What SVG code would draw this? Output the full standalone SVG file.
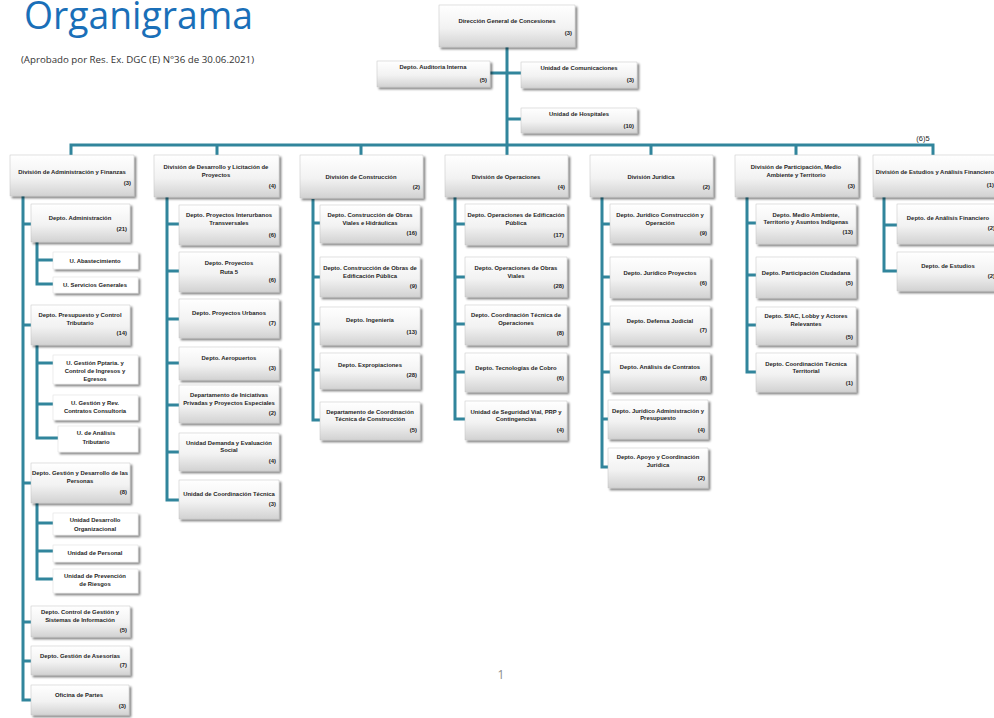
<svg xmlns="http://www.w3.org/2000/svg" width="994" height="718" viewBox="0 0 994 718">
<defs>
<linearGradient id="g" x1="0" y1="0" x2="0" y2="1">
<stop offset="0" stop-color="#ffffff"/>
<stop offset="0.55" stop-color="#f2f2f2"/>
<stop offset="1" stop-color="#d2d2d2"/>
</linearGradient>
<filter id="sh" x="-10%" y="-15%" width="125%" height="145%">
<feGaussianBlur in="SourceAlpha" stdDeviation="1"/>
<feOffset dx="1.5" dy="2"/>
<feComponentTransfer><feFuncA type="linear" slope="0.5"/></feComponentTransfer>
<feMerge><feMergeNode/><feMergeNode in="SourceGraphic"/></feMerge>
</filter>
<style>
.b{fill:url(#g);stroke:#c4c4c4;stroke-width:.5;filter:url(#sh)}
.u{fill:#ffffff;stroke:#dcdcdc;stroke-width:.5;filter:url(#sh)}
.t{font-family:"Liberation Sans",Arial,sans-serif;font-weight:bold;font-size:5.9px;fill:#1e1e1e;text-anchor:middle}
.n{font-family:"Liberation Sans",Arial,sans-serif;font-weight:bold;font-size:5.9px;fill:#1e1e1e;text-anchor:end}
.c{stroke:#31859c;stroke-width:3;fill:none}
</style>
</defs>
<rect width="994" height="718" fill="#ffffff"/>
<text x="24" y="29" font-family="'Open Sans','Noto Sans',sans-serif" font-size="38" fill="#1a6fb8" textLength="229" lengthAdjust="spacingAndGlyphs">Organigrama</text>
<text x="21" y="63" font-family="'Open Sans','Noto Sans',sans-serif" font-size="9.5" fill="#333333" textLength="233" lengthAdjust="spacingAndGlyphs">(Aprobado por Res. Ex. DGC (E) N°36 de 30.06.2021)</text>
<text x="501" y="679" font-family="'Open Sans','Noto Sans',sans-serif" font-size="12" fill="#8c8c8c" text-anchor="middle">1</text>
<text x="923" y="141" font-family="'Liberation Sans',Arial,sans-serif" font-size="7.5" fill="#262626" text-anchor="middle">(6)5</text>

<g id="connectors">
<path class="c" d="M507 47V145M490 73H521M507 119H521M71 145H933M71 143.5V155M217 145V155M361 145V155M507 145V155M651 145V155M796 145V155M933 143.5V155"/>
<path class="c" d="M23 196V700H31M23 224H31M23 325H31M23 483H31M23 622H31M23 661H31"/>
<path class="c" d="M37 242V284H53M37 260H53M37 345V438H58M37 363H53M37 404H53M37 503V579H53M37 523H53M37 551H53"/>
<path class="c" d="M167 197V500H179M167 224H179M167 271H179M167 319H179M167 363H179M167 405H179M167 452H179"/>
<path class="c" d="M313 199V420H320M313 223H320M313 277H320M313 324H320M313 370H320"/>
<path class="c" d="M455 197V419H465M455 224H465M455 277H465M455 324H465M455 372H465"/>
<path class="c" d="M602 197V467H608M602 224H610M602 277H610M602 324H610M602 372H610M602 419H608"/>
<path class="c" d="M747 197V372H756M747 223H756M747 275H756M747 325H756"/>
<path class="c" d="M884 197V271H897M884 225H897"/>
</g>

<g id="dgc"><rect class="b" x="439" y="5" width="136" height="42"/><text class="t" x="507" y="23">Dirección General de Concesiones</text><text class="n" x="572" y="35">(3)</text></g>
<g id="auditoria"><rect class="b" x="377" y="61" width="113" height="26"/><text class="t" x="433" y="69">Depto. Auditoria Interna</text><text class="n" x="487" y="82">(5)</text></g>
<g id="comunicaciones"><rect class="b" x="521" y="62" width="116" height="26"/><text class="t" x="579" y="70">Unidad de Comunicaciones</text><text class="n" x="634" y="82">(3)</text></g>
<g id="hospitales"><rect class="b" x="521" y="108" width="116" height="25"/><text class="t" x="579" y="116">Unidad de Hospitales</text><text class="n" x="634" y="128">(10)</text></g>

<g id="div-admin"><rect class="b" x="10" y="155" width="124" height="41"/><text class="t" x="72" y="174">División de Administración y Finanzas</text><text class="n" x="131" y="185">(3)</text></g>
<g id="div-desarrollo"><rect class="b" x="154" y="155" width="125" height="42"/><text class="t" x="216" y="169">División de Desarrollo y Licitación de</text><text class="t" x="216" y="177">Proyectos</text><text class="n" x="276" y="188">(4)</text></g>
<g id="div-construccion"><rect class="b" x="300" y="155" width="123" height="43"/><text class="t" x="361" y="179">División de Construcción</text><text class="n" x="420" y="189">(2)</text></g>
<g id="div-operaciones"><rect class="b" x="445" y="155" width="123" height="42"/><text class="t" x="506" y="179">División de Operaciones</text><text class="n" x="565" y="189">(4)</text></g>
<g id="div-juridica"><rect class="b" x="590" y="155" width="123" height="42"/><text class="t" x="651" y="179">División Jurídica</text><text class="n" x="710" y="189">(2)</text></g>
<g id="div-participacion"><rect class="b" x="735" y="155" width="123" height="42"/><text class="t" x="796" y="169">División de Participación, Medio</text><text class="t" x="796" y="177">Ambiente y Territorio</text><text class="n" x="855" y="188">(3)</text></g>
<g id="div-estudios"><rect class="b" x="873" y="155" width="124" height="42"/><text class="t" x="935" y="174">División de Estudios y Análisis Financiero</text><text class="n" x="994" y="187">(1)</text></g>

<g id="a1"><rect class="b" x="31" y="204" width="99" height="38"/><text class="t" x="80" y="220">Depto. Administración</text><text class="n" x="127" y="231">(21)</text></g>
<g id="a1a"><rect class="u" x="53" y="252" width="85" height="17"/><text class="t" x="95" y="262.5">U.  Abastecimiento</text></g>
<g id="a1b"><rect class="u" x="53" y="277" width="85" height="16"/><text class="t" x="95" y="287">U. Servicios Generales</text></g>
<g id="a2"><rect class="b" x="31" y="305" width="99" height="40"/><text class="t" x="80" y="317">Depto. Presupuesto y Control</text><text class="t" x="80" y="325">Tributario</text><text class="n" x="127" y="335">(14)</text></g>
<g id="a2a"><rect class="u" x="53" y="355" width="85" height="29"/><text class="t" x="95" y="365">U. Gestión Pptaria. y</text><text class="t" x="95" y="373">Control de Ingresos y</text><text class="t" x="95" y="381">Egresos</text></g>
<g id="a2b"><rect class="u" x="53" y="395" width="85" height="25"/><text class="t" x="95" y="405">U. Gestión y Rev.</text><text class="t" x="95" y="413">Contratos Consultoría</text></g>
<g id="a2c"><rect class="u" x="58" y="426" width="80" height="26"/><text class="t" x="96" y="435">U. de Análisis</text><text class="t" x="96" y="444">Tributario</text></g>
<g id="a3"><rect class="b" x="31" y="463" width="99" height="40"/><text class="t" x="80" y="475">Depto. Gestión y Desarrollo de las</text><text class="t" x="80" y="483">Personas</text><text class="n" x="127" y="494">(8)</text></g>
<g id="a3a"><rect class="u" x="53" y="513" width="85" height="22"/><text class="t" x="95" y="522">Unidad Desarrollo</text><text class="t" x="95" y="531">Organizacional</text></g>
<g id="a3b"><rect class="u" x="53" y="545" width="85" height="17"/><text class="t" x="95" y="555">Unidad de Personal</text></g>
<g id="a3c"><rect class="u" x="53" y="569" width="85" height="24"/><text class="t" x="95" y="578">Unidad de Prevención</text><text class="t" x="95" y="586">de Riesgos</text></g>
<g id="a4"><rect class="b" x="31" y="606" width="99" height="31"/><text class="t" x="80" y="614">Depto. Control de Gestión y</text><text class="t" x="80" y="622">Sistemas de Información</text><text class="n" x="127" y="632">(5)</text></g>
<g id="a5"><rect class="b" x="31" y="646" width="99" height="29"/><text class="t" x="80" y="658">Depto. Gestión de Asesorías</text><text class="n" x="127" y="667">(7)</text></g>
<g id="a6"><rect class="b" x="31" y="685" width="98" height="30"/><text class="t" x="79" y="697">Oficina de Partes</text><text class="n" x="126" y="708">(3)</text></g>

<g id="b1"><rect class="b" x="179" y="205" width="100" height="40"/><text class="t" x="229" y="217">Depto. Proyectos Interurbanos</text><text class="t" x="229" y="225">Transversales</text><text class="n" x="276" y="237">(6)</text></g>
<g id="b2"><rect class="b" x="179" y="252" width="100" height="40"/><text class="t" x="229" y="265">Depto. Proyectos</text><text class="t" x="229" y="274">Ruta 5</text><text class="n" x="276" y="282">(6)</text></g>
<g id="b3"><rect class="b" x="179" y="299" width="100" height="39"/><text class="t" x="229" y="315">Depto. Proyectos Urbanos</text><text class="n" x="276" y="325">(7)</text></g>
<g id="b4"><rect class="b" x="179" y="347" width="100" height="33"/><text class="t" x="229" y="360">Depto. Aeropuertos</text><text class="n" x="276" y="370">(3)</text></g>
<g id="b5"><rect class="b" x="179" y="385" width="100" height="38"/><text class="t" x="229" y="397">Departamento de Iniciativas</text><text class="t" x="229" y="405">Privadas y Proyectos Especiales</text><text class="n" x="276" y="415">(2)</text></g>
<g id="b6"><rect class="b" x="179" y="433" width="100" height="38"/><text class="t" x="229" y="445">Unidad Demanda y Evaluación</text><text class="t" x="229" y="452">Social</text><text class="n" x="276" y="463">(4)</text></g>
<g id="b7"><rect class="b" x="179" y="480" width="100" height="39"/><text class="t" x="229" y="496">Unidad de Coordinación Técnica</text><text class="n" x="276" y="506">(3)</text></g>

<g id="c1"><rect class="b" x="320" y="205" width="100" height="38"/><text class="t" x="370" y="217">Depto. Construcción de Obras</text><text class="t" x="370" y="225">Viales e Hidráulicas</text><text class="n" x="417" y="235">(16)</text></g>
<g id="c2"><rect class="b" x="320" y="257" width="100" height="40"/><text class="t" x="370" y="270">Depto. Construcción de Obras de</text><text class="t" x="370" y="278">Edificación Pública</text><text class="n" x="417" y="288">(9)</text></g>
<g id="c3"><rect class="b" x="320" y="307" width="100" height="38"/><text class="t" x="370" y="322">Depto. Ingeniería</text><text class="n" x="417" y="334">(13)</text></g>
<g id="c4"><rect class="b" x="320" y="353" width="100" height="36"/><text class="t" x="370" y="367">Depto. Expropiaciones</text><text class="n" x="417" y="377">(28)</text></g>
<g id="c5"><rect class="b" x="320" y="402" width="100" height="38"/><text class="t" x="370" y="414">Departamento de Coordinación</text><text class="t" x="370" y="421">Técnica de Construcción</text><text class="n" x="417" y="432">(5)</text></g>

<g id="o1"><rect class="b" x="465" y="204" width="102" height="41"/><text class="t" x="516" y="217">Depto. Operaciones de Edificación</text><text class="t" x="516" y="225">Pública</text><text class="n" x="564" y="237">(17)</text></g>
<g id="o2"><rect class="b" x="465" y="257" width="102" height="40"/><text class="t" x="516" y="270">Depto. Operaciones de Obras</text><text class="t" x="516" y="278">Viales</text><text class="n" x="564" y="288">(28)</text></g>
<g id="o3"><rect class="b" x="465" y="305" width="102" height="40"/><text class="t" x="516" y="317">Depto. Coordinación Técnica de</text><text class="t" x="516" y="325">Operaciones</text><text class="n" x="564" y="335">(8)</text></g>
<g id="o4"><rect class="b" x="465" y="353" width="102" height="39"/><text class="t" x="516" y="370">Depto. Tecnologías de Cobro</text><text class="n" x="564" y="380">(6)</text></g>
<g id="o5"><rect class="b" x="465" y="401" width="102" height="39"/><text class="t" x="516" y="414">Unidad de Seguridad Vial, PRP y</text><text class="t" x="516" y="421">Contingencias</text><text class="n" x="564" y="432">(4)</text></g>

<g id="j1"><rect class="b" x="610" y="204" width="100" height="39"/><text class="t" x="660" y="217">Depto. Jurídico Construcción y</text><text class="t" x="660" y="225">Operación</text><text class="n" x="707" y="235">(9)</text></g>
<g id="j2"><rect class="b" x="610" y="257" width="100" height="41"/><text class="t" x="660" y="275">Depto. Jurídico Proyectos</text><text class="n" x="707" y="285">(6)</text></g>
<g id="j3"><rect class="b" x="610" y="306" width="100" height="39"/><text class="t" x="660" y="323">Depto. Defensa Judicial</text><text class="n" x="707" y="332">(7)</text></g>
<g id="j4"><rect class="b" x="610" y="353" width="100" height="39"/><text class="t" x="660" y="369">Depto. Análisis de Contratos</text><text class="n" x="707" y="380">(8)</text></g>
<g id="j5"><rect class="b" x="608" y="400" width="100" height="39"/><text class="t" x="658" y="413">Depto. Jurídico Administración y</text><text class="t" x="658" y="420">Presupuesto</text><text class="n" x="705" y="432">(4)</text></g>
<g id="j6"><rect class="b" x="608" y="448" width="100" height="40"/><text class="t" x="658" y="459">Depto. Apoyo y Coordinación</text><text class="t" x="658" y="467">Jurídica</text><text class="n" x="705" y="480">(2)</text></g>

<g id="p1"><rect class="b" x="756" y="204" width="100" height="40"/><text class="t" x="806" y="217">Depto. Medio Ambiente,</text><text class="t" x="806" y="224">Territorio y Asuntos Indígenas</text><text class="n" x="853" y="234">(13)</text></g>
<g id="p2"><rect class="b" x="756" y="257" width="100" height="41"/><text class="t" x="806" y="275">Depto. Participación Ciudadana</text><text class="n" x="853" y="285">(5)</text></g>
<g id="p3"><rect class="b" x="756" y="307" width="100" height="38"/><text class="t" x="806" y="318">Depto. SIAC, Lobby y Actores</text><text class="t" x="806" y="326">Relevantes</text><text class="n" x="853" y="339">(5)</text></g>
<g id="p4"><rect class="b" x="756" y="353" width="100" height="39"/><text class="t" x="806" y="366">Depto. Coordinación Técnica</text><text class="t" x="806" y="373">Territorial</text><text class="n" x="853" y="385">(1)</text></g>

<g id="e1"><rect class="b" x="897" y="204" width="100" height="40"/><text class="t" x="948" y="220">Depto. de Análisis Financiero</text><text class="n" x="995" y="230">(2)</text></g>
<g id="e2"><rect class="b" x="897" y="252" width="100" height="39"/><text class="t" x="948" y="268">Depto. de Estudios</text><text class="n" x="995" y="278">(2)</text></g>
</svg>
